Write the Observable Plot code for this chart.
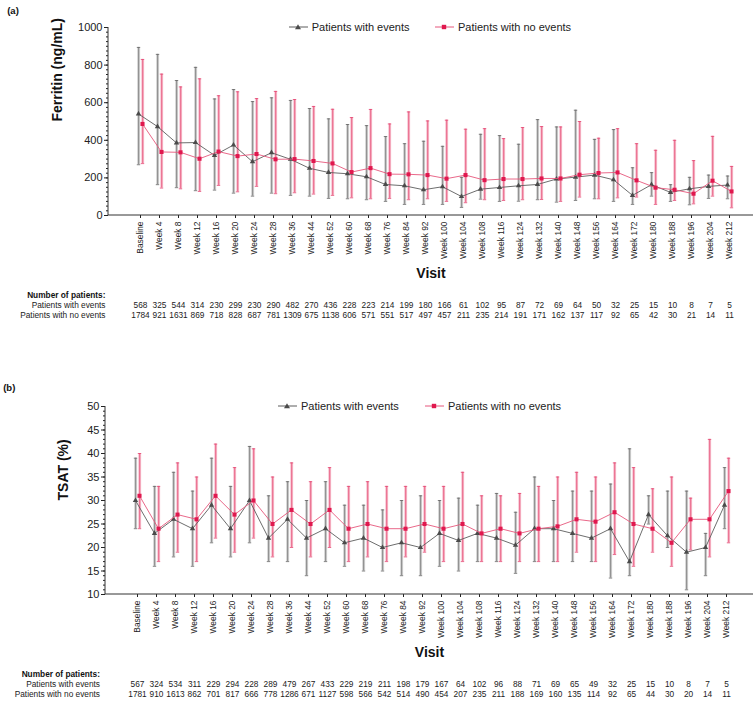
<!DOCTYPE html>
<html><head><meta charset="utf-8">
<script src="https://cdn.jsdelivr.net/npm/d3@7"></script>
<script src="https://cdn.jsdelivr.net/npm/@observablehq/plot@0.6"></script>
<style>
body{margin:0;background:#fff;font-family:Arial,"Liberation Sans",sans-serif;}
#wrap{width:755px;}
.panel{position:relative;width:755px;}
.panel svg{display:block}
.legend{position:absolute;font-size:11px;color:#222;display:flex;align-items:center;white-space:nowrap;height:14px;line-height:14px;}
.legend svg{display:block;margin-right:4px}
</style></head><body><div id="wrap"></div>
<script>
// ---------- data ----------
const visits = ["Baseline","Week 4","Week 8","Week 12","Week 16","Week 20","Week 24","Week 28","Week 36","Week 44","Week 52","Week 60","Week 68","Week 76","Week 84","Week 92","Week 100","Week 104","Week 108","Week 116","Week 124","Week 132","Week 140","Week 148","Week 156","Week 164","Week 172","Week 180","Week 188","Week 196","Week 204","Week 212"];
const seriesNames = ["Patients with events", "Patients with no events"];
const tableTitle = "Number of patients:";

// Panel (a) Ferritin (ng/mL)
const ferritinEvents     = [540,473,386,388,320,375,286,334,299,251,229,222,206,165,158,137,153,101,140,149,158,165,194,204,215,190,107,164,123,142,155,162];
const ferritinEventsLow  = [270,164,148,132,135,119,103,119,107,103,91,89,84,75,59,59,59,43,87,75,76,84,71,80,89,75,59,103,75,57,91,89];
const ferritinEventsHigh = [894,857,718,788,620,670,606,626,612,569,514,484,478,420,382,395,368,203,432,425,379,510,471,560,405,457,254,228,164,203,215,210];
const ferritinNoEvents     = [487,338,336,302,340,316,327,299,300,290,277,231,252,220,219,215,196,215,188,194,194,197,197,217,226,229,187,148,137,116,185,128];
const ferritinNoEventsLow  = [276,146,142,128,160,126,155,116,121,114,107,94,89,91,84,89,75,68,84,80,84,85,75,98,89,94,98,59,80,62,103,41];
const ferritinNoEventsHigh = [830,752,684,727,637,658,622,660,617,580,565,521,564,487,551,503,507,459,462,409,468,473,471,500,411,462,382,347,400,292,421,261];
const ferritinNEvents   = [568,325,544,314,230,299,230,290,482,270,436,228,223,214,199,180,166,61,102,95,87,72,69,64,50,32,25,15,10,8,7,5];
const ferritinNNoEvents = [1784,921,1631,869,718,828,687,781,1309,675,1138,606,571,551,517,497,457,211,235,214,191,171,162,137,117,92,65,42,30,21,14,11];
const ferritinTicks = [0,200,400,600,800,1000];

// Panel (b) TSAT (%)
const tsatEvents     = [30,23,26,24,29,24,30,22,26,22,24,21,22,20,21,20,23,21.5,23,22,20.5,24,24,23,22,24,17,27,22.5,19,20,29];
const tsatEventsLow  = [24,16,18,16,21,18,21,17,17,14,17,16,15,15,14,14,16,15,17,17,14.5,17,17,17,17,13.5,14,25,20,11,14,24];
const tsatEventsHigh = [39,33,36,32,39,33,41.5,31,34,30,34,29,29,28,30,31,30,30.5,29,31.5,27.5,35,30,32,32,33.5,41,31,32,32,23,37];
const tsatNoEvents     = [31,24,27,26,31,27,30,25,28,25,28,24,25,24,24,25,24,25,23,24,23,24,24.5,26,25.5,27.5,25,24,21,26,26,32];
const tsatNoEventsLow  = [24,17,19,17,22,19,22,18,20,18,20,17,18,17,18,19,17,17,17,17,17,17,17,19,17,18.5,16,19,16,19.5,18,21];
const tsatNoEventsHigh = [40,33,38,35,42,37,41,35,38,34,37,33,34,33,33,33,33,36,31,31,31.5,33,35,36,35,38,37,32.5,35,30.5,43,39];
const tsatNEvents   = [567,324,534,311,229,294,228,289,479,267,433,229,219,211,198,179,167,64,102,96,88,71,69,65,49,32,25,15,10,8,7,5];
const tsatNNoEvents = [1781,910,1613,862,701,817,666,778,1286,671,1127,598,566,542,514,490,454,207,235,211,188,169,160,135,114,92,65,44,30,20,14,11];
const tsatTicks = [10,15,20,25,30,35,40,45,50];

// ---------- helpers ----------
const GRAY = "#4a4a4a", GRAY_LINE = "#5c5c5c", GRAY_BAR = "#666", GRAY_LIGHT = "#c6c6c6";
const PINK = "#e0184e", PINK_LINE = "#e6577c", PINK_BAR = "#e44672", PINK_LIGHT = "#f4a9bc";
const FONT = "Arial, 'Liberation Sans', sans-serif";
const NARROW = "'Liberation Sans Narrow', 'Arial Narrow', Arial, 'Liberation Sans', sans-serif";

function rows(mean, lo, hi) { return visits.map((visit, i) => ({visit, mean: mean[i], lo: lo[i], hi: hi[i]})); }
function counts(n) { return visits.map((visit, i) => ({visit, n: n[i]})); }
const capSymbol = { draw(ctx, size) { const h = Math.sqrt(size / Math.PI); ctx.moveTo(-h, 0); ctx.lineTo(h, 0); } };

function seriesMarks(data, dx, dark, light) {
  return [
    Plot.ruleX(data, {x: "visit", y1: "lo", y2: "hi", stroke: light, strokeWidth: 2, dx: dx + 0.6}),
    Plot.ruleX(data, {x: "visit", y1: "lo", y2: "hi", stroke: dark, strokeWidth: 0.8, dx: dx - 0.3}),
    Plot.dot(data, {x: "visit", y: "hi", symbol: capSymbol, r: 1.7, stroke: dark, strokeWidth: 0.8, dx}),
    Plot.dot(data, {x: "visit", y: "lo", symbol: capSymbol, r: 1.7, stroke: dark, strokeWidth: 0.8, dx}),
  ];
}
function lineMarks(data, dx, line, fill, symbol, r) {
  return [
    Plot.line(data, {x: "visit", y: "mean", stroke: line, strokeWidth: 0.9, dx}),
    Plot.dot(data, {x: "visit", y: "mean", symbol, fill, r, dx}),
  ];
}

function panel(c) {
  const ev = rows(c.ev, c.evLo, c.evHi), no = rows(c.no, c.noLo, c.noHi);
  const frameLines = (index, scales, values, dims) => {
    const g = d3.create("svg:g").attr("stroke", "#333").attr("stroke-width", 1);
    const x0 = dims.marginLeft, x1 = dims.width - dims.marginRight;
    const y0 = dims.marginTop, y1 = dims.height - dims.marginBottom;
    g.append("line").attr("x1", x0).attr("x2", x0).attr("y1", y0).attr("y2", y1);
    g.append("line").attr("x1", x0).attr("x2", x1).attr("y1", y1).attr("y2", y1);
    return g.node();
  };
  const plot = Plot.plot({
    width: 755, height: c.height,
    marginTop: c.mt, marginBottom: c.mb, marginLeft: c.ml, marginRight: 2,
    style: {fontFamily: FONT, color: "#222", background: "transparent", overflow: "visible"},
    x: {type: "point", domain: visits, range: c.xRange},
    y: {domain: c.yDomain},
    marks: [
      Plot.axisY({ticks: c.minor, tickSize: 2, tickFormat: () => "", label: null}),
      Plot.axisY({ticks: c.yTicks, tickSize: 4, tickPadding: 2, tickFormat: d => String(d), fontSize: 11, label: null}),
      Plot.axisX({tickSize: 3, tickPadding: 3, tickRotate: -90, fontSize: 8.4, label: null}),
      frameLines,
      ...seriesMarks(ev, -2, GRAY_BAR, GRAY_LIGHT),
      ...seriesMarks(no, 2, PINK_BAR, PINK_LIGHT),
      ...lineMarks(ev, -2, GRAY_LINE, GRAY, "triangle", 2.0),
      ...lineMarks(no, 2, PINK_LINE, PINK, "square", 2.3),
      Plot.text([c.yLabel], {frameAnchor: "left", dx: c.yLabelDx, rotate: -90, fontWeight: "bold", fontSize: 14, fill: "#111"}),
      Plot.text(["Visit"], {frameAnchor: "bottom", dy: 62, fontWeight: "bold", fontSize: 14, fill: "#111"}),
      Plot.text([c.tag], {frameAnchor: "top-left", dx: c.tagDx, dy: c.tagDy, textAnchor: "start", fontWeight: "bold", fontSize: 9.5, fill: "#111"}),
      Plot.text([tableTitle], {frameAnchor: "bottom-left", dx: c.tableDx, dy: 82.7, textAnchor: "end", fontWeight: "bold", fontSize: 8.3, fill: "#111"}),
      Plot.text([seriesNames[0]], {frameAnchor: "bottom-left", dx: c.tableDx, dy: 92.7, textAnchor: "end", fontSize: 8.3, fill: "#222"}),
      Plot.text([seriesNames[1]], {frameAnchor: "bottom-left", dx: c.tableDx, dy: 102.7, textAnchor: "end", fontSize: 8.3, fill: "#222"}),
      Plot.text(counts(c.nEv), {x: "visit", text: d => String(d.n), frameAnchor: "bottom", dy: 92.7, fontSize: 8.3, fontFamily: NARROW, fill: "#222"}),
      Plot.text(counts(c.nNo), {x: "visit", text: d => String(d.n), frameAnchor: "bottom", dy: 102.7, fontSize: 8.3, fontFamily: NARROW, fill: "#222"})
    ]
  });
  const div = document.createElement("div");
  div.className = "panel";
  div.appendChild(plot);
  const items = [
    {name: seriesNames[0], left: c.leg[0], line: GRAY_LINE, fill: GRAY, sym: "tri"},
    {name: seriesNames[1], left: c.leg[1], line: PINK_LINE, fill: PINK, sym: "sq"}
  ];
  for (const it of items) {
    const el = document.createElement("div");
    el.className = "legend";
    el.style.left = it.left + "px";
    el.style.top = (c.legY - 7) + "px";
    const mark = it.sym === "tri"
      ? `<polygon points="9,2.3 12,7.3 6,7.3" fill="${it.fill}"/>`
      : `<rect x="6.8" y="2.8" width="4.4" height="4.4" fill="${it.fill}"/>`;
    el.innerHTML = `<svg width="19" height="10"><line x1="0" x2="19" y1="5" y2="5" stroke="${it.line}" stroke-width="1"/>${mark}</svg><span>${it.name}</span>`;
    div.appendChild(el);
  }
  return div;
}

const wrap = document.getElementById("wrap");
wrap.appendChild(panel({
  height: 335, mt: 27, mb: 120, ml: 108, xRange: [120.3, 749.3],
  yDomain: [0, 1000], yTicks: ferritinTicks, minor: d3.range(0, 1001, 25),
  ev: ferritinEvents, evLo: ferritinEventsLow, evHi: ferritinEventsHigh,
  no: ferritinNoEvents, noLo: ferritinNoEventsLow, noHi: ferritinNoEventsHigh,
  nEv: ferritinNEvents, nNo: ferritinNNoEvents,
  yLabel: "Ferritin (ng/mL)", yLabelDx: -51.3,
  tag: "(a)", tagDx: -101.3, tagDy: -20.3, tableDx: -3,
  leg: [288.7, 435], legY: 26.7
}));
wrap.appendChild(panel({
  height: 366, mt: 71, mb: 107, ml: 105, xRange: [115.7, 746.8],
  yDomain: [10, 50], yTicks: tsatTicks, minor: d3.range(10, 51, 1),
  ev: tsatEvents, evLo: tsatEventsLow, evHi: tsatEventsHigh,
  no: tsatNoEvents, noLo: tsatNoEventsLow, noHi: tsatNoEventsHigh,
  nEv: tsatNEvents, nNo: tsatNNoEvents,
  yLabel: "TSAT (%)", yLabelDx: -41.7,
  tag: "(b)", tagDx: -102.3, tagDy: -22, tableDx: -5.5,
  leg: [278, 425], legY: 70.7
}));
</script></body></html>
